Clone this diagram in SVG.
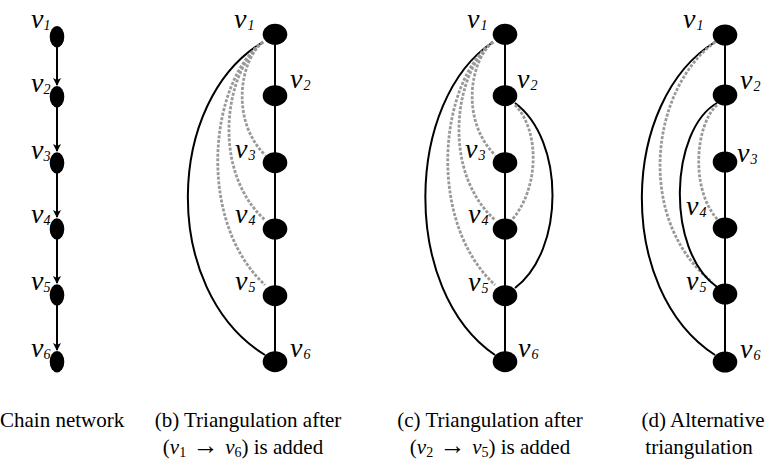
<svg xmlns="http://www.w3.org/2000/svg" width="770" height="466" viewBox="0 0 770 466">
<style>
.bg{fill:#fff}
.nd{fill:#000}
.ln{stroke:#000;stroke-width:2;fill:none}
.arc{stroke:#000;stroke-width:2;fill:none}
.dash{stroke:#999;stroke-width:2.8;fill:none;stroke-dasharray:3 1.6}
.lb{font-family:'Liberation Serif','Times New Roman',serif;font-style:italic;font-size:28px;fill:#000}
.sb{font-size:14px}
.cap{font-family:'Liberation Serif','Times New Roman',serif;font-size:21px;fill:#000}
.mi{font-style:italic}
.ms{font-size:14px}
.ar{font-size:26px}
</style>
<defs>
<marker id="ah" markerWidth="8" markerHeight="10" refX="7" refY="4" orient="auto" markerUnits="userSpaceOnUse" viewBox="0 0 8 8">
<path d="M0,0 L8,4 L0,8 L2,4 Z" fill="#000"/>
</marker>
</defs>
<rect class="bg" x="0" y="0" width="770" height="466"/>
<g id="connectors">
<line class="ln" x1="57" y1="47" x2="57" y2="85" marker-end="url(#ah)"/>
<line class="ln" x1="57" y1="107" x2="57" y2="151" marker-end="url(#ah)"/>
<line class="ln" x1="57" y1="173" x2="57" y2="217" marker-end="url(#ah)"/>
<line class="ln" x1="57" y1="239" x2="57" y2="283" marker-end="url(#ah)"/>
<line class="ln" x1="57" y1="305" x2="57" y2="350" marker-end="url(#ah)"/>
<line class="ln" x1="275" y1="34" x2="275" y2="362"/>
<path class="arc" d="M263,42 C165,100 160,290 265,355"/>
<path class="dash" d="M263,42 C240,60 230,120 265,155"/>
<path class="dash" d="M263,42 C225,70 210,170 265,220"/>
<path class="dash" d="M263,42 C210,80 195,220 265,285"/>
<line class="ln" x1="505" y1="34" x2="505" y2="362"/>
<path class="arc" d="M493,42 C405,100 400,290 495,355"/>
<path class="arc" d="M515,103 C565,140 565,250 515,288"/>
<path class="dash" d="M493,42 C470,60 460,120 495,155"/>
<path class="dash" d="M493,42 C455,70 440,170 495,220"/>
<path class="dash" d="M493,42 C440,80 425,220 495,285"/>
<path class="dash" d="M515,105 C540,130 540,190 510,222"/>
<line class="ln" x1="725" y1="35" x2="725" y2="362"/>
<path class="arc" d="M715,42 C620,100 615,290 715,355"/>
<path class="dash" d="M715,42 C650,90 635,220 712,282"/>
<path class="arc" d="M717,103 C670,130 665,250 717,287"/>
<path class="dash" d="M717,105 C695,125 690,190 718,220"/>
</g>
<g id="panel-a">
<g id="a-v1"><ellipse class="nd" cx="57" cy="36.7" rx="7.3" ry="10.7"/><text class="lb" x="31" y="28">v<tspan class="sb" dy="2">1</tspan></text></g>
<g id="a-v2"><ellipse class="nd" cx="57" cy="96.7" rx="7.3" ry="10.7"/><text class="lb" x="31" y="92">v<tspan class="sb" dy="2">2</tspan></text></g>
<g id="a-v3"><ellipse class="nd" cx="57" cy="163" rx="7.3" ry="10.7"/><text class="lb" x="31" y="159">v<tspan class="sb" dy="2">3</tspan></text></g>
<g id="a-v4"><ellipse class="nd" cx="57" cy="229" rx="7.3" ry="10.7"/><text class="lb" x="31" y="223">v<tspan class="sb" dy="2">4</tspan></text></g>
<g id="a-v5"><ellipse class="nd" cx="57" cy="295" rx="7.3" ry="10.7"/><text class="lb" x="31" y="290">v<tspan class="sb" dy="2">5</tspan></text></g>
<g id="a-v6"><ellipse class="nd" cx="57" cy="361.7" rx="7.3" ry="10.7"/><text class="lb" x="31" y="357">v<tspan class="sb" dy="2">6</tspan></text></g>
</g>
<g id="panel-b">
<g id="b-v1"><ellipse class="nd" cx="275" cy="34.3" rx="12.3" ry="10.5"/><text class="lb" x="234" y="28">v<tspan class="sb" dx="1" dy="2">1</tspan></text></g>
<g id="b-v2"><ellipse class="nd" cx="275" cy="95.7" rx="12.3" ry="10.5"/><text class="lb" x="290" y="88">v<tspan class="sb" dx="1" dy="2">2</tspan></text></g>
<g id="b-v3"><ellipse class="nd" cx="275" cy="162.7" rx="12.3" ry="10.5"/><text class="lb" x="235" y="158">v<tspan class="sb" dx="1" dy="2">3</tspan></text></g>
<g id="b-v4"><ellipse class="nd" cx="275" cy="229" rx="12.3" ry="10.5"/><text class="lb" x="235" y="223">v<tspan class="sb" dx="1" dy="2">4</tspan></text></g>
<g id="b-v5"><ellipse class="nd" cx="275" cy="295.7" rx="12.3" ry="10.5"/><text class="lb" x="235" y="290">v<tspan class="sb" dx="1" dy="2">5</tspan></text></g>
<g id="b-v6"><ellipse class="nd" cx="275" cy="361.7" rx="12.3" ry="10.5"/><text class="lb" x="290" y="357">v<tspan class="sb" dx="1" dy="2">6</tspan></text></g>
</g>
<g id="panel-c">
<g id="c-v1"><ellipse class="nd" cx="505" cy="34.3" rx="12.3" ry="10.5"/><text class="lb" x="467" y="28">v<tspan class="sb" dx="1" dy="2">1</tspan></text></g>
<g id="c-v2"><ellipse class="nd" cx="505" cy="95.7" rx="12.3" ry="10.5"/><text class="lb" x="517" y="88">v<tspan class="sb" dx="1" dy="2">2</tspan></text></g>
<g id="c-v3"><ellipse class="nd" cx="505" cy="162.7" rx="12.3" ry="10.5"/><text class="lb" x="465" y="158">v<tspan class="sb" dx="1" dy="2">3</tspan></text></g>
<g id="c-v4"><ellipse class="nd" cx="505" cy="229" rx="12.3" ry="10.5"/><text class="lb" x="468" y="223">v<tspan class="sb" dx="1" dy="2">4</tspan></text></g>
<g id="c-v5"><ellipse class="nd" cx="505" cy="295.7" rx="12.3" ry="10.5"/><text class="lb" x="468" y="291">v<tspan class="sb" dx="1" dy="2">5</tspan></text></g>
<g id="c-v6"><ellipse class="nd" cx="505" cy="361.7" rx="12.3" ry="10.5"/><text class="lb" x="518" y="357">v<tspan class="sb" dx="1" dy="2">6</tspan></text></g>
</g>
<g id="panel-d">
<g id="d-v1"><ellipse class="nd" cx="725" cy="35" rx="12.3" ry="10.5"/><text class="lb" x="683" y="28">v<tspan class="sb" dx="1" dy="2">1</tspan></text></g>
<g id="d-v2"><ellipse class="nd" cx="725" cy="95" rx="12.3" ry="10.5"/><text class="lb" x="740" y="89">v<tspan class="sb" dx="1" dy="2">2</tspan></text></g>
<g id="d-v3"><ellipse class="nd" cx="725" cy="162" rx="12.3" ry="10.5"/><text class="lb" x="737" y="162">v<tspan class="sb" dx="1" dy="2">3</tspan></text></g>
<g id="d-v4"><ellipse class="nd" cx="725" cy="228" rx="12.3" ry="10.5"/><text class="lb" x="686" y="215">v<tspan class="sb" dx="1" dy="2">4</tspan></text></g>
<g id="d-v5"><ellipse class="nd" cx="725" cy="294" rx="12.3" ry="10.5"/><text class="lb" x="686" y="290">v<tspan class="sb" dx="1" dy="2">5</tspan></text></g>
<g id="d-v6"><ellipse class="nd" cx="725" cy="362" rx="12.3" ry="10.5"/><text class="lb" x="740" y="358">v<tspan class="sb" dx="1" dy="2">6</tspan></text></g>
</g>
<g id="captions">
<text class="cap" x="0" y="427">Chain network</text>
<text class="cap" x="248" y="427" text-anchor="middle">(b) Triangulation after</text>
<text class="cap" x="243" y="454" text-anchor="middle">(<tspan class="mi">v</tspan><tspan class="ms" dy="3">1</tspan><tspan class="ar" dy="-3"> → </tspan><tspan class="mi">v</tspan><tspan class="ms" dy="3">6</tspan><tspan dy="-3">) is added</tspan></text>
<text class="cap" x="490" y="427" text-anchor="middle">(c) Triangulation after</text>
<text class="cap" x="490" y="454" text-anchor="middle">(<tspan class="mi">v</tspan><tspan class="ms" dy="3">2</tspan><tspan class="ar" dy="-3"> → </tspan><tspan class="mi">v</tspan><tspan class="ms" dy="3">5</tspan><tspan dy="-3">) is added</tspan></text>
<text class="cap" x="703" y="427" text-anchor="middle">(d) Alternative</text>
<text class="cap" x="699" y="454" text-anchor="middle">triangulation</text>
</g>
</svg>
